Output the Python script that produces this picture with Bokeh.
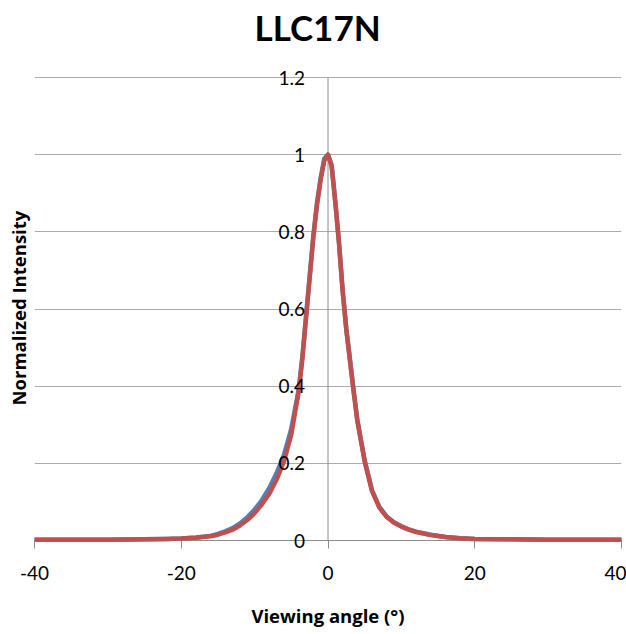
from bokeh.plotting import figure
from bokeh.models import FixedTicker, LabelSet, ColumnDataSource, Title
from bokeh.core.properties import value
from bokeh.embed import file_html
from bokeh.resources import INLINE

title_text = "LLC17N"
x_label = "Viewing angle (°)"
y_label = "Normalized Intensity"
x_ticks = [-40, -20, 0, 20, 40]
x_tick_labels = ["-40", "-20", "0", "20", "40"]
y_ticks = [0, 0.2, 0.4, 0.6, 0.8, 1.0, 1.2]
y_tick_labels = ["0", "0.2", "0.4", "0.6", "0.8", "1", "1.2"]

angle = [-40, -35, -30, -25, -22, -20, -18, -16, -15, -14, -13, -12, -11, -10,
         -9, -8, -7, -6, -5, -4, -3.5, -3, -2.5, -2, -1.5, -1, -0.5, 0,
         0.5, 1, 1.5, 2, 2.5, 3, 3.5, 4, 5, 6, 7, 8, 9, 10, 11, 12, 14, 16,
         18, 20, 25, 30, 35, 40]

intensity_red = [0.002, 0.002, 0.002, 0.003, 0.004, 0.005, 0.007, 0.011, 0.015, 0.021,
                 0.028, 0.039, 0.053, 0.071, 0.094, 0.121, 0.158, 0.205, 0.275, 0.385,
                 0.47, 0.575, 0.68, 0.785, 0.87, 0.935, 0.985, 1.0,
                 0.97, 0.875, 0.77, 0.645, 0.545, 0.465, 0.385, 0.31, 0.205, 0.128,
                 0.085, 0.061, 0.046, 0.036, 0.028, 0.022, 0.014, 0.009,
                 0.006, 0.004, 0.003, 0.002, 0.002, 0.002]

intensity_blue = [0.002, 0.002, 0.002, 0.003, 0.004, 0.005, 0.008, 0.012, 0.017, 0.024,
                  0.032, 0.044, 0.060, 0.080, 0.105, 0.136, 0.175, 0.222, 0.29, 0.39,
                  0.475, 0.58, 0.685, 0.79, 0.875, 0.94, 0.99, 1.0,
                  0.972, 0.878, 0.772, 0.648, 0.548, 0.468, 0.388, 0.312, 0.207, 0.13,
                  0.087, 0.062, 0.047, 0.037, 0.029, 0.023, 0.015, 0.009,
                  0.006, 0.004, 0.003, 0.002, 0.002, 0.002]

grid_color = "#ababab"
axis_color = "#8c8c8c"
tick_font = "Lato"
label_font = "Open Sans"

# layout (pixels)
frame_left, frame_right = 34, 621
data_top, data_bottom = 77, 540          # pixel rows of y = 1.2 and y = 0
frame_top, frame_bottom = 48, 548
W, H = 626, 634
ppu = (data_bottom - data_top) / (y_ticks[-1] - y_ticks[0])
y_lo = y_ticks[0] - (frame_bottom - data_bottom) / ppu
y_hi = y_ticks[-1] + (data_top - frame_top) / ppu

p = figure(frame_width=frame_right - frame_left, frame_height=frame_bottom - frame_top,
           x_range=(x_ticks[0], x_ticks[-1]), y_range=(y_lo, y_hi),
           output_backend="svg", toolbar_location=None, y_axis_location=None,
           min_border_left=frame_left, min_border_right=W - frame_right,
           min_border_top=frame_top, min_border_bottom=H - frame_bottom)

p.title.text = title_text
p.title.align = "left"
p.title.text_font = tick_font
p.title.text_font_size = "35px"
p.title.text_font_style = "bold"
p.title.text_color = "black"
p.title.offset = 220
p.title.standoff = 2

p.outline_line_color = None
p.background_fill_color = "white"
p.border_fill_color = "white"

# bottom axis: tick labels + title; its ticks reach up to y = 0
p.xaxis.ticker = FixedTicker(ticks=x_ticks)
p.xaxis.major_label_overrides = dict(zip(x_ticks, x_tick_labels))
p.xaxis.axis_label = x_label
p.xaxis.axis_label_text_font = label_font
p.xaxis.axis_label_text_font_style = "bold"
p.xaxis.axis_label_text_font_size = "18.5px"
p.xaxis.axis_label_text_color = "black"
p.xaxis.axis_label_standoff = 20
p.xaxis.major_label_text_font = tick_font
p.xaxis.major_label_text_font_size = "19px"
p.xaxis.major_label_text_color = "black"
p.xaxis.major_label_standoff = 17
p.xaxis.major_tick_out = 0
p.xaxis.major_tick_in = frame_bottom - data_bottom
p.xaxis.minor_tick_out = 0
p.xaxis.minor_tick_in = 0
p.xaxis.axis_line_color = None
p.xaxis.major_tick_line_color = axis_color

# vertical axis title, placed on the left side
p.add_layout(Title(text=y_label, align="left", offset=143, standoff=7,
                   text_font=label_font, text_font_style="bold",
                   text_font_size="18.5px", text_color="black"), "left")

p.xgrid.visible = False
p.ygrid.ticker = FixedTicker(ticks=y_ticks)
p.ygrid.grid_line_color = grid_color
p.ygrid.grid_line_width = 1

# axis lines: horizontal at y = 0, vertical at x = 0
p.segment(x0=[x_ticks[0]], y0=[y_ticks[0]], x1=[x_ticks[-1]], y1=[y_ticks[0]],
          line_color=axis_color, line_width=1)
p.segment(x0=[0], y0=[y_ticks[0]], x1=[0], y1=[y_ticks[-1]],
          line_color=axis_color, line_width=1)

# y tick labels next to the central axis
src = ColumnDataSource(dict(x=[0] * len(y_ticks), y=y_ticks, text=y_tick_labels))
p.add_layout(LabelSet(x="x", y="y", text="text", source=src, x_offset=-23,
                      text_align="right", text_baseline="middle",
                      text_font=value(tick_font), text_font_size="19px", text_color="black"))

p.line(angle, intensity_blue, line_color="#4f81bd", line_width=4.5, line_join="round", line_cap="round")
p.line(angle, intensity_red, line_color="#c0504d", line_width=4.5, line_join="round", line_cap="round")

open("out.html", "w").write(file_html(p, INLINE))
